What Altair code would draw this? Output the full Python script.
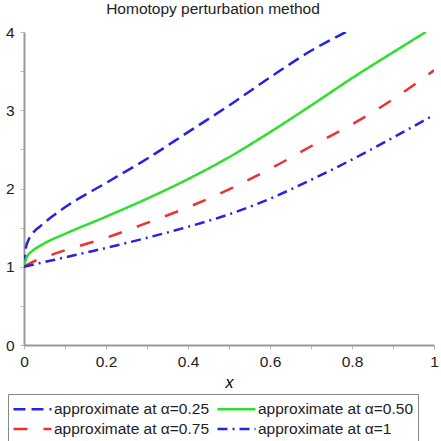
import altair as alt
import pandas as pd

series_names = ["approximate at α=0.25", "approximate at α=0.50",
                "approximate at α=0.75", "approximate at α=1"]
# legend fills column by column: order so rows read 0.25 | 0.50, 0.75 | 1
legend_order = ["approximate at α=0.25", "approximate at α=0.75",
                "approximate at α=0.50", "approximate at α=1"]

x_a25 = [0, 0.005, 0.01, 0.02, 0.04, 0.1, 0.2, 0.3, 0.4, 0.5, 0.6, 0.7, 0.785]
y_a25 = [1.0, 1.25, 1.33, 1.42, 1.52, 1.76, 2.07, 2.38, 2.72, 3.06, 3.42, 3.76, 4.0]

x_a50 = [0, 0.005, 0.01, 0.02, 0.05, 0.1, 0.2, 0.3, 0.4, 0.5, 0.6, 0.7, 0.8, 0.9, 0.98]
y_a50 = [1.0, 1.1, 1.15, 1.2, 1.3, 1.42, 1.64, 1.87, 2.12, 2.4, 2.72, 3.06, 3.41, 3.74, 4.0]

x_a75 = [0, 0.02, 0.05, 0.1, 0.2, 0.3, 0.4, 0.5, 0.6, 0.7, 0.8, 0.9, 1.0]
y_a75 = [1.0, 1.06, 1.12, 1.21, 1.37, 1.56, 1.76, 1.99, 2.25, 2.54, 2.82, 3.14, 3.51]

x_a1 = [0, 0.05, 0.1, 0.15, 0.2, 0.3, 0.4, 0.5, 0.6, 0.7, 0.8, 0.9, 1.0]
y_a1 = [1.0, 1.06, 1.12, 1.18, 1.24, 1.37, 1.51, 1.67, 1.87, 2.11, 2.37, 2.65, 2.94]

color_map = {"approximate at α=0.25": "#2323e6", "approximate at α=0.50": "#2ee02e",
             "approximate at α=0.75": "#ee3030", "approximate at α=1": "#2323e6"}
dash_map = {"approximate at α=0.25": [12, 6], "approximate at α=0.50": [1, 0],
            "approximate at α=0.75": [14, 16], "approximate at α=1": [10, 5, 2, 5]}

x_ticks = [0, 0.1, 0.2, 0.3, 0.4, 0.5, 0.6, 0.7, 0.8, 0.9, 1.0]
y_ticks = [0, 0.5, 1, 1.5, 2, 2.5, 3, 3.5, 4]

rows = []
for name, xs, ys in zip(series_names, [x_a25, x_a50, x_a75, x_a1],
                        [y_a25, y_a50, y_a75, y_a1]):
    for i, (xv, yv) in enumerate(zip(xs, ys)):
        rows.append({"series": name, "x": xv, "y": yv, "order": i})
df = pd.DataFrame(rows)

FONT = "Liberation Sans"
FS = 15.5

legend = alt.Legend(
    orient="none", legendX=-16, legendY=362, columns=2, title=None,
    symbolType="M-1,0H3", symbolSize=361, symbolStrokeWidth=2.5,
    symbolFillColor="transparent",
    labelFontSize=FS, labelFont=FONT, labelColor="#222",
    labelLimit=300, labelOffset=20,
    strokeColor="#888", fillColor="white", padding=4,
    columnPadding=2, rowPadding=-1,
)

chart = alt.Chart(df).mark_line(strokeWidth=2.5, interpolate="monotone", clip=True).encode(
    x=alt.X("x:Q", scale=alt.Scale(domain=[0, 1], nice=False),
            axis=alt.Axis(values=x_ticks, title="x", titleFontStyle="italic",
                          titleFont=FONT, titleFontSize=16, titleFontWeight="normal",
                          titlePadding=5,
                          labelExpr="(round(datum.value*10) % 2 == 0) ? format(datum.value, '~g') : ''",
                          labelFont=FONT, labelFontSize=FS, labelColor="#222",
                          labelPadding=5, domainColor="#999", domainWidth=2,
                          tickColor="#bbb", tickSize=4, grid=False, labelFlush=False)),
    y=alt.Y("y:Q", scale=alt.Scale(domain=[0, 4], nice=False),
            axis=alt.Axis(values=y_ticks, title=None,
                          labelExpr="(datum.value % 1 == 0) ? format(datum.value, 'd') : ''",
                          labelFont=FONT, labelFontSize=FS, labelColor="#222",
                          labelPadding=6, domainColor="#999", domainWidth=2,
                          tickColor="#bbb", tickSize=4, grid=False)),
    color=alt.Color("series:N", scale=alt.Scale(domain=legend_order,
                                                range=[color_map[s] for s in legend_order]),
                    legend=legend),
    strokeDash=alt.StrokeDash("series:N", scale=alt.Scale(domain=legend_order,
                                                          range=[dash_map[s] for s in legend_order]),
                              legend=legend),
    order="order:Q",
).properties(
    width=410, height=313,
    title=alt.TitleParams("Homotopy perturbation method", font=FONT, fontSize=FS,
                          fontWeight="normal", color="#222", offset=8, dx=-16),
    autosize=alt.AutoSizeParams(type="none"),
    padding={"left": 24, "top": 32, "right": 7, "bottom": 96},
).configure_view(stroke=None)

chart.save("out.html", embed_options={"renderer": "svg", "actions": False})
